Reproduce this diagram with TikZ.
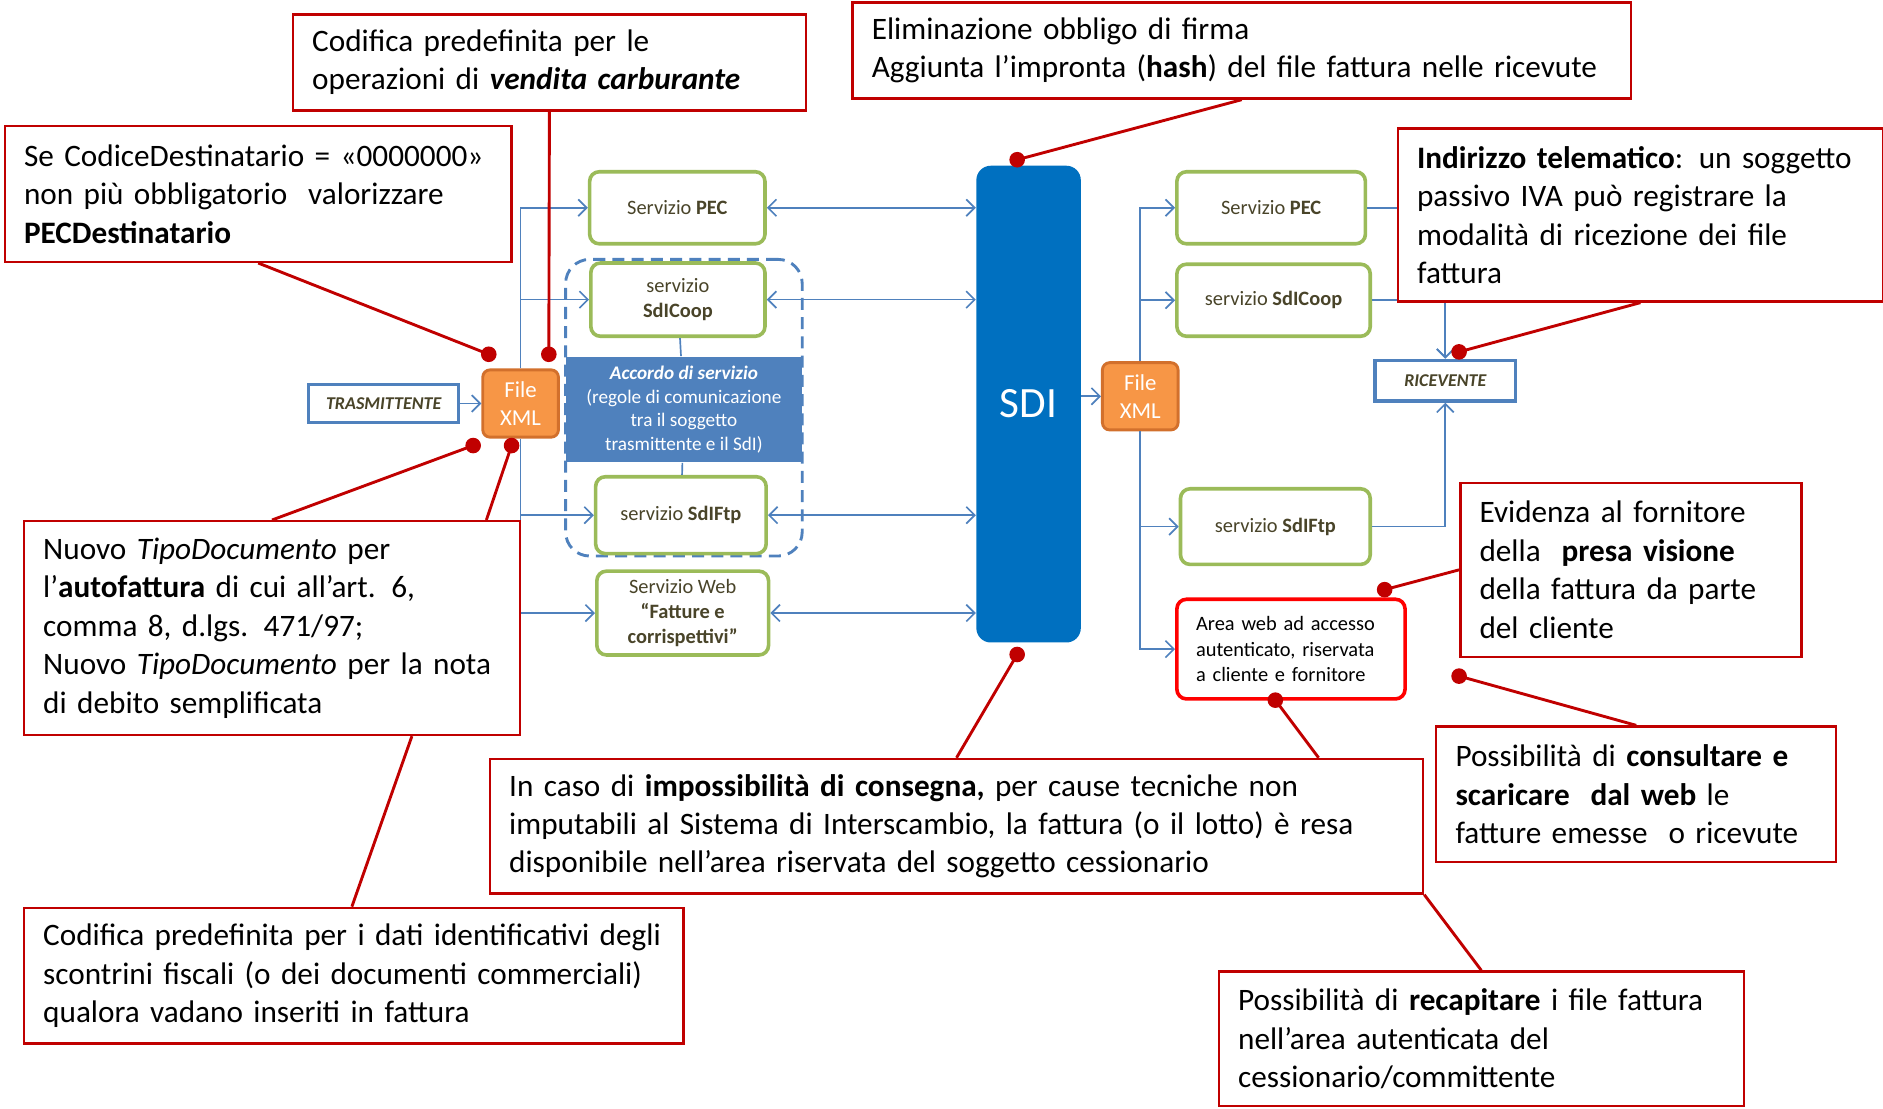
\documentclass[tikz,border=0pt]{standalone}
\usepackage{fontspec}
\setmainfont{Carlito}
\usepackage{xcolor}
\usetikzlibrary{
    arrows.meta,
    calc,
    positioning
}
\definecolor{notared}{HTML}{C00000}
\definecolor{areared}{HTML}{FF0000}
\definecolor{servgreen}{HTML}{9BBB59}
\definecolor{blu}{HTML}{4F81BD}
\definecolor{sdiblue}{HTML}{0070C0}
\definecolor{xmlorange}{HTML}{F79646}
\definecolor{xmlborder}{HTML}{D2702C}
\definecolor{servtext}{HTML}{494429}
\tikzset{
    nota/.style={draw=notared, line width=1pt, fill=white, align=left, anchor=north west,
        inner xsep=8pt, inner ysep=0pt, font=\fontsize{13}{16}\selectfont},
    richiamo/.style={draw=notared, line width=1.2pt},
    punto/.style={circle, fill=notared, inner sep=0pt, minimum width=5.5pt, minimum height=6.5pt},
    servizio/.style={draw=servgreen, line width=1.5pt, rounded corners=4pt, fill=white,
        align=center, text=servtext, font=\fontsize{8.5}{10.5}\selectfont},
    filexml/.style={draw=xmlborder, line width=1.2pt, rounded corners=3pt, fill=xmlorange,
        text=white, align=center, minimum width=31.5pt, minimum height=28pt,
        font=\fontsize{9.5}{11.5}\selectfont},
    attore/.style={draw=blu, line width=1.4pt, fill=white, text=servtext,
        font=\fontsize{7.5}{9}\selectfont\bfseries\itshape},
    flusso/.style={draw=blu, line width=0.7pt},
    >={Straight Barb[length=3.5pt,width=7pt]}
}

\begin{document}
\begin{tikzpicture}[x=0.5pt, y=-0.5pt]
    \useasboundingbox (0,0) rectangle (1568,923);

    % lato trasmittente
    \node[draw=blu, dashed, dash pattern=on 5pt off 3pt, line width=1.2pt, rounded corners=10pt,
        minimum width=98.5pt, minimum height=123.5pt] (gruppo) at (569.5,339.5) {};
    \node[attore, minimum width=62.5pt, minimum height=16pt] (tras) at (319.5,336) {TRASMITTENTE};
    \node[filexml] (xmlL) at (433.5,336) {File\\XML};
    \node[servizio, minimum width=73pt, minimum height=30pt] (pecL) at (564,173) {Servizio \textbf{PEC}};
    \node[servizio, minimum width=72.5pt, minimum height=30.5pt] (coopL) at (564.5,249.5) {servizio\\\textbf{SdICoop}};
    \node[fill=blu, text=white, align=center, minimum width=98.5pt, minimum height=44pt,
        font=\fontsize{8}{9.75}\selectfont] (accordo) at (569.5,341)
        {\textbf{\textit{Accordo di servizio}}\\(regole di comunicazione\\tra il soggetto\\trasmittente e il SdI)};
    \node[servizio, minimum width=71pt, minimum height=32pt] (ftpL) at (567,429) {servizio \textbf{SdIFtp}};
    \node[servizio, minimum width=71.5pt, minimum height=30.5pt] (webL) at (568.5,510.5)
        {Servizio Web\\\textbf{“Fatture e}\\\textbf{corrispettivi”}};

    % sistema di interscambio
    \node[fill=sdiblue, rounded corners=6pt, text=white, minimum width=43.5pt, minimum height=198.5pt,
        font=\fontsize{18}{20}\selectfont] (sdi) at (856.5,336.5) {SDI};

    % lato ricevente
    \node[filexml] (xmlR) at (949.5,330) {File\\XML};
    \node[servizio, minimum width=78.5pt, minimum height=30pt] (pecR) at (1058.5,173) {Servizio \textbf{PEC}};
    \node[servizio, minimum width=80.5pt, minimum height=30pt] (coopR) at (1060.5,250) {servizio \textbf{SdICoop}};
    \node[servizio, minimum width=79pt, minimum height=31.5pt] (ftpR) at (1062,438.5) {servizio \textbf{SdIFtp}};
    \node[servizio, draw=areared, text=black, align=left, minimum width=95pt, minimum height=41.5pt,
        text width=79pt] (area) at (1075,540.5) {Area web ad accesso\\autenticato, riservata\\a cliente e fornitore};
    \node[attore, minimum width=58.5pt, minimum height=17pt] (ric) at (1203.5,317) {RICEVENTE};

    % flussi
    \draw[flusso, ->] (tras) -- (xmlL);
    \draw[flusso, ->] (xmlL.north) |- (pecL);
    \draw[flusso, ->] (xmlL.north) |- (coopL);
    \draw[flusso, ->] (xmlL.south) |- (ftpL);
    \draw[flusso, ->] (xmlL.south) |- (webL);
    \draw[flusso] (coopL) -- (accordo) (accordo) -- (ftpL);
    \draw[flusso, <->] (pecL.east) -- (pecL.east -| sdi.west);
    \draw[flusso, <->] (coopL.east) -- (coopL.east -| sdi.west);
    \draw[flusso, <->] (ftpL.east) -- (ftpL.east -| sdi.west);
    \draw[flusso, <->] (webL.east) -- (webL.east -| sdi.west);
    \draw[flusso, ->] (xmlR -| sdi.east) -- (xmlR);
    \draw[flusso, ->] (xmlR.north) |- (pecR);
    \draw[flusso, ->] (xmlR.north) |- (coopR);
    \draw[flusso, ->] (xmlR.south) |- (ftpR);
    \draw[flusso, ->] (xmlR.south) |- (area);
    \draw[flusso, ->] (pecR.east) -| (ric.north);
    \draw[flusso, ->] (coopR.east) -| (ric.north);
    \draw[flusso, ->] (ftpR.east) -| (ric.south);

    % note
    \node[nota, text width=197.5pt, minimum height=40pt] (carburante) at (243,11)
        {Codifica predefinita per le\\operazioni di \textbf{\textit{vendita carburante}}};
    \node[nota, text width=308pt, minimum height=40pt] (firma) at (709,1)
        {Eliminazione obbligo di firma\\Aggiunta l’impronta (\textbf{hash}) del file fattura nelle ricevute};
    \node[nota, text width=195pt, minimum height=56.5pt] (codice) at (3,104)
        {Se CodiceDestinatario = «0000000»\\non più obbligatorio\ \ valorizzare\\\textbf{PECDestinatario}};
    \node[nota, text width=186pt, minimum height=72pt] (indirizzo) at (1163,106)
        {\textbf{Indirizzo telematico}: un soggetto\\passivo IVA può registrare la\\modalità di ricezione dei file\\fattura};
    \node[nota, text width=190.5pt, minimum height=89pt] (tipodoc) at (19,433)
        {Nuovo \textit{TipoDocumento} per\\l’\textbf{autofattura} di cui all’art. 6,\\comma 8, d.lgs. 471/97;\\Nuovo \textit{TipoDocumento} per la nota\\di debito semplificata};
    \node[nota, text width=258.5pt, minimum height=56.5pt] (scontrini) at (19,755)
        {Codifica predefinita per i dati identificativi degli\\scontrini fiscali (o dei documenti commerciali)\\qualora vadano inseriti in fattura};
    \node[nota, text width=372.5pt, minimum height=56pt] (consegna) at (407,631)
        {In caso di \textbf{impossibilità di consegna,} per cause tecniche non\\imputabili al Sistema di Interscambio, la fattura (o il lotto) è resa\\disponibile nell’area riservata del soggetto cessionario};
    \node[nota, text width=126pt, minimum height=72.5pt] (visione) at (1215,401)
        {Evidenza al fornitore\\della\ \ \textbf{presa visione}\\della fattura da parte\\del cliente};
    \node[nota, text width=202.5pt, minimum height=56pt] (recapito) at (1014,808)
        {Possibilità di \textbf{recapitare} i file fattura\\nell’area autenticata del\\cessionario/committente};
    \node[nota, text width=150.5pt, minimum height=56.5pt] (consulta) at (1195,604)
        {Possibilità di \textbf{consultare e}\\\textbf{scaricare\ \ dal web} le\\fatture emesse\ \ o ricevute};

    % punti di richiamo
    \node[punto] (p1) at (457,295) {};
    \node[punto] (p2) at (847,133) {};
    \node[punto] (p3) at (407,295) {};
    \node[punto] (p4) at (1215,293) {};
    \node[punto] (p5) at (394,371) {};
    \node[punto] (p6) at (426,371) {};
    \node[punto] (p7) at (847,545) {};
    \node[punto] (p8) at (1062,583) {};
    \node[punto] (p9) at (1153,491) {};
    \node[punto] (p10) at (1215,563) {};

    \draw[richiamo]
    (carburante.south) -- (p1.center)
    (firma.south) -- (p2.center)
    (codice.south) -- (p3.center)
    (indirizzo.south) -- (p4.center)
    (tipodoc.north) -- (p5.center)
    (tipodoc.north -| 405,0) -- (p6.center)
    (tipodoc.south -| 343,0) -- (scontrini.north -| 293,0)
    (consegna.north) -- (p7.center)
    (consegna.north -| 1098,0) -- (p8.center)
    (consegna.south east) -- (recapito.north)
    (visione.west) -- (p9.center)
    (consulta.north) -- (p10.center);
\end{tikzpicture}
\end{document}
